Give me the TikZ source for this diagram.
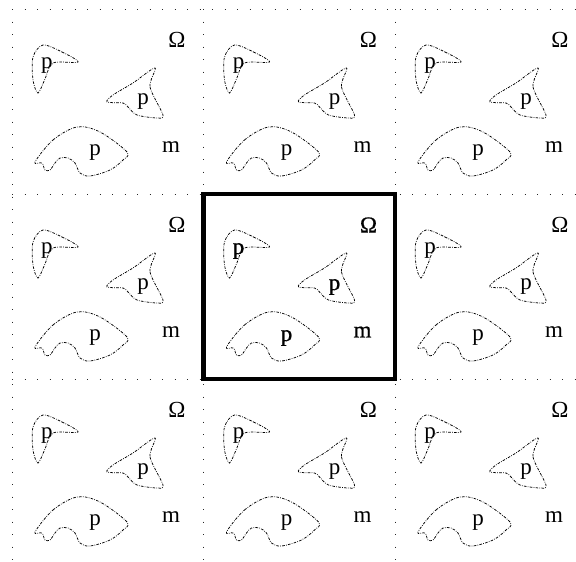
\documentclass[tikz,border=0pt]{standalone}
\usepackage{fontspec}
\setmainfont{Liberation Serif}
\newfontfamily\heavyish[FakeBold=0.8]{Liberation Serif}
\begin{document}
\begin{tikzpicture}[x=1pt,y=-1pt,
  blob/.style={draw, line width=0.75pt, dash pattern=on 2.6pt off 1.3pt on 0.7pt off 1.3pt},
  lbl/.style={font=\fontsize{23}{25}\selectfont, inner sep=0pt},
  gridline/.style={line width=1pt, dash pattern=on 1.2pt off 11.3pt, black!85},
  frame/.style={line width=4.5pt}]
\useasboundingbox (0,0) rectangle (576,562);
\fill[white] (0,0) rectangle (576,562);
% dotted grid
\draw[gridline] (12,9) -- (12,562);
\draw[gridline] (203.5,9) -- (203.5,562);
\draw[gridline] (395,9) -- (395,562);
\draw[gridline] (12,9) -- (576,9);
\draw[gridline] (12,194) -- (576,194);
\draw[gridline] (12,379) -- (576,379);
\foreach \c in {0,1,2}{
 \foreach \r in {0,1,2}{
  \begin{scope}[shift={(12+191.5*\c,9+185*\r)}]
   \draw[blob] plot[smooth cycle, tension=0.5] coordinates {(31,36) (50,43) (66,53) (41,54) (33,70) (26,84) (21,71) (21,48)};
   \draw[blob] plot[smooth cycle, tension=0.5] coordinates {(143,59) (138,78) (151,106) (145,109) (125,106) (116,98) (111,94) (95,93) (101,86) (121,74)};
   \draw[blob] plot[smooth cycle, tension=0.55] coordinates {(23,153) (41,131) (65,118) (88,123) (115,143) (111,151) (98,161) (78,167) (68,164) (63,154) (56,149) (48,149) (43,154) (38,161) (33,161) (30,154)};
   \ifnum\c\r=11 \def\lblfont{\heavyish}\else\def\lblfont{}\fi
   \node[lbl] (om\c\r) at (165,31) {\lblfont Ω};
   \node[lbl] (m\c\r) at (159,138) {\lblfont m};
   \node[lbl] (pa\c\r) at (35,57) {\lblfont p};
   \node[lbl] (pb\c\r) at (131,93) {\lblfont p};
   \node[lbl] (pc\c\r) at (83,144) {\lblfont p};
  \end{scope}
 }
}
\draw[frame] (203.5,194) rectangle (395,379);
\end{tikzpicture}
\end{document}
